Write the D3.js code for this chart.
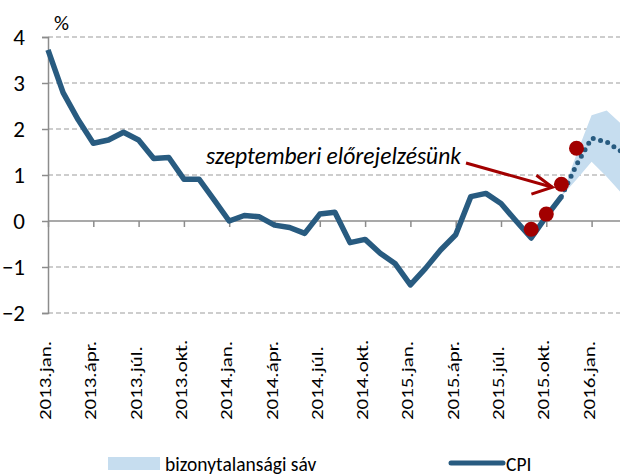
<!DOCTYPE html>
<html>
<head>
<meta charset="utf-8">
<script src="https://cdn.jsdelivr.net/npm/d3@7"></script>
<style>
    body { margin: 0; background: #fff; }
    svg { display: block; }
    text { font-family: Carlito, Calibri, "Open Sans", sans-serif; fill: #000; }
</style>
</head>
<body>
<div id="chart"></div>
<script>
// monthly CPI, 2013.jan. - 2015.nov. (%)
var cpi = [3.72, 2.79, 2.2, 1.69, 1.76, 1.93, 1.76, 1.36, 1.38, 0.91, 0.91, 0.46,
    0.0, 0.12, 0.09, -0.09, -0.14, -0.27, 0.15, 0.19, -0.47, -0.4, -0.7, -0.93,
    -1.39, -1.03, -0.63, -0.3, 0.53, 0.6, 0.38, 0.0, -0.37, 0.1, 0.53];

// forecast path from 2015.nov. (month index 34)
var forecastStart = 34;
var forecast = [0.53, 1.22, 1.8, 1.72, 1.5];
var bandLow = [0.53, 0.9, 1.29, 0.96, 0.6];
var bandHigh = [0.53, 1.45, 2.3, 2.4, 2.1];

// september forecast points (2015.szept. - 2015.dec.)
var sepStart = 32;
var sepForecast = [-0.18, 0.15, 0.8, 1.58];

var tickLabels = ["2013.jan.", "2013.ápr.", "2013.júl.", "2013.okt.",
    "2014.jan.", "2014.ápr.", "2014.júl.", "2014.okt.",
    "2015.jan.", "2015.ápr.", "2015.júl.", "2015.okt.", "2016.jan."];
var yTicks = [-2, -1, 0, 1, 2, 3, 4];

var blue = "#285b80";
var red = "#a20000";

var width = 620, height = 475;

var svg = d3.select("#chart").append("svg")
    .attr("width", width)
    .attr("height", height);

var x = d3.scaleLinear().domain([0, 38]).range([48, 48 + 38 * 15.1]);
var y = d3.scaleLinear().domain([-2, 4]).range([313, 37]);

// gridlines
svg.append("g").selectAll("line")
    .data(yTicks.filter(d => d !== 0))
    .enter().append("line")
    .attr("x1", x(0))
    .attr("x2", width)
    .attr("y1", d => y(d))
    .attr("y2", d => y(d))
    .attr("stroke", "#bdbdbd")
    .attr("stroke-width", 1.3)
    .attr("stroke-dasharray", "5,3");

// y axis
var yAxis = svg.append("g")
    .attr("transform", "translate(" + x(0) + ",0)")
    .call(d3.axisLeft(y).tickValues(yTicks).tickSize(6).tickPadding(17).tickFormat(d3.format("d")));
yAxis.select(".domain").attr("stroke", "#8c8c8c").attr("stroke-width", 1.5);
yAxis.selectAll(".tick line").attr("stroke", "#8c8c8c").attr("stroke-width", 1.5);
yAxis.selectAll(".tick text")
    .attr("font-size", "23px")
    .style("font-family", "Carlito, Calibri, 'Open Sans', sans-serif");

svg.append("text")
    .attr("x", 54)
    .attr("y", 30)
    .attr("font-size", "21px")
    .text("%");

// zero line with month ticks
var tickIdx = tickLabels.map((d, i) => i * 3);
var xAxis = svg.append("g")
    .attr("transform", "translate(0," + y(0) + ")")
    .call(d3.axisBottom(x).tickValues(tickIdx).tickSize(6).tickFormat(""));
xAxis.select(".domain")
    .attr("d", "M" + x(0) + ",0H" + width)
    .attr("stroke", "#8c8c8c").attr("stroke-width", 1.5);
xAxis.selectAll(".tick line").attr("stroke", "#8c8c8c").attr("stroke-width", 1.5);

// rotated category labels below the plot
svg.append("g").selectAll("text")
    .data(tickLabels)
    .enter().append("text")
    .attr("transform", (d, i) => "translate(" + (x(i * 3) + 3) + ",420) rotate(-90) scale(1.23,1)")
    .attr("text-anchor", "start")
    .attr("font-size", "17px")
    .text(d => d);

// uncertainty band
var bandData = forecast.map((d, i) => ({ i: forecastStart + i, lo: bandLow[i], hi: bandHigh[i] }));
svg.append("path")
    .datum(bandData)
    .attr("fill", "#c6ddef")
    .attr("d", d3.area()
        .x(d => x(d.i))
        .y0(d => y(d.lo))
        .y1(d => y(d.hi)));

// CPI
var line = d3.line()
    .x(d => x(d.i))
    .y(d => y(d.v));

svg.append("path")
    .datum(cpi.map((v, i) => ({ i: i, v: v })))
    .attr("fill", "none")
    .attr("stroke", blue)
    .attr("stroke-width", 5.5)
    .attr("stroke-linejoin", "round")
    .attr("d", line);

svg.append("path")
    .datum(forecast.map((v, i) => ({ i: forecastStart + i, v: v })))
    .attr("fill", "none")
    .attr("stroke", blue)
    .attr("stroke-width", 5)
    .attr("stroke-linecap", "round")
    .attr("stroke-dasharray", "0,7.5")
    .attr("d", line);

// september forecast dots
svg.append("g").selectAll("circle")
    .data(sepForecast)
    .enter().append("circle")
    .attr("cx", (d, i) => x(sepStart + i))
    .attr("cy", d => y(d))
    .attr("r", 7.5)
    .attr("fill", red);

// annotation + arrow
svg.append("text")
    .attr("x", 206)
    .attr("y", 164)
    .attr("font-size", "23.5px")
    .attr("font-style", "italic")
    .text("szeptemberi előrejelzésünk");

var ax0 = 466, ay0 = 163;
var ax1 = x(sepStart + 2) - 9, ay1 = y(sepForecast[2]) + 3;
svg.append("line")
    .attr("x1", ax0).attr("y1", ay0)
    .attr("x2", ax1).attr("y2", ay1)
    .attr("stroke", red)
    .attr("stroke-width", 3);
svg.append("path")
    .attr("d", "M" + (ax1 - 16) + "," + (ay1 - 12) + "L" + ax1 + "," + ay1 + "L" + (ax1 - 21) + "," + (ay1 + 7))
    .attr("fill", "none")
    .attr("stroke", red)
    .attr("stroke-width", 3);

// legend
var legend = svg.append("g").attr("class", "legend");
legend.append("rect")
    .attr("x", 108).attr("y", 457)
    .attr("width", 52).attr("height", 13)
    .attr("fill", "#c6ddef");
legend.append("text")
    .attr("x", 165).attr("y", 471)
    .attr("font-size", "19.5px")
    .text("bizonytalansági sáv");
legend.append("line")
    .attr("x1", 451).attr("x2", 503)
    .attr("y1", 463).attr("y2", 463)
    .attr("stroke", blue)
    .attr("stroke-width", 5)
    .attr("stroke-linecap", "round");
legend.append("text")
    .attr("x", 506).attr("y", 471)
    .attr("font-size", "19.5px")
    .text("CPI");
</script>
</body>
</html>
